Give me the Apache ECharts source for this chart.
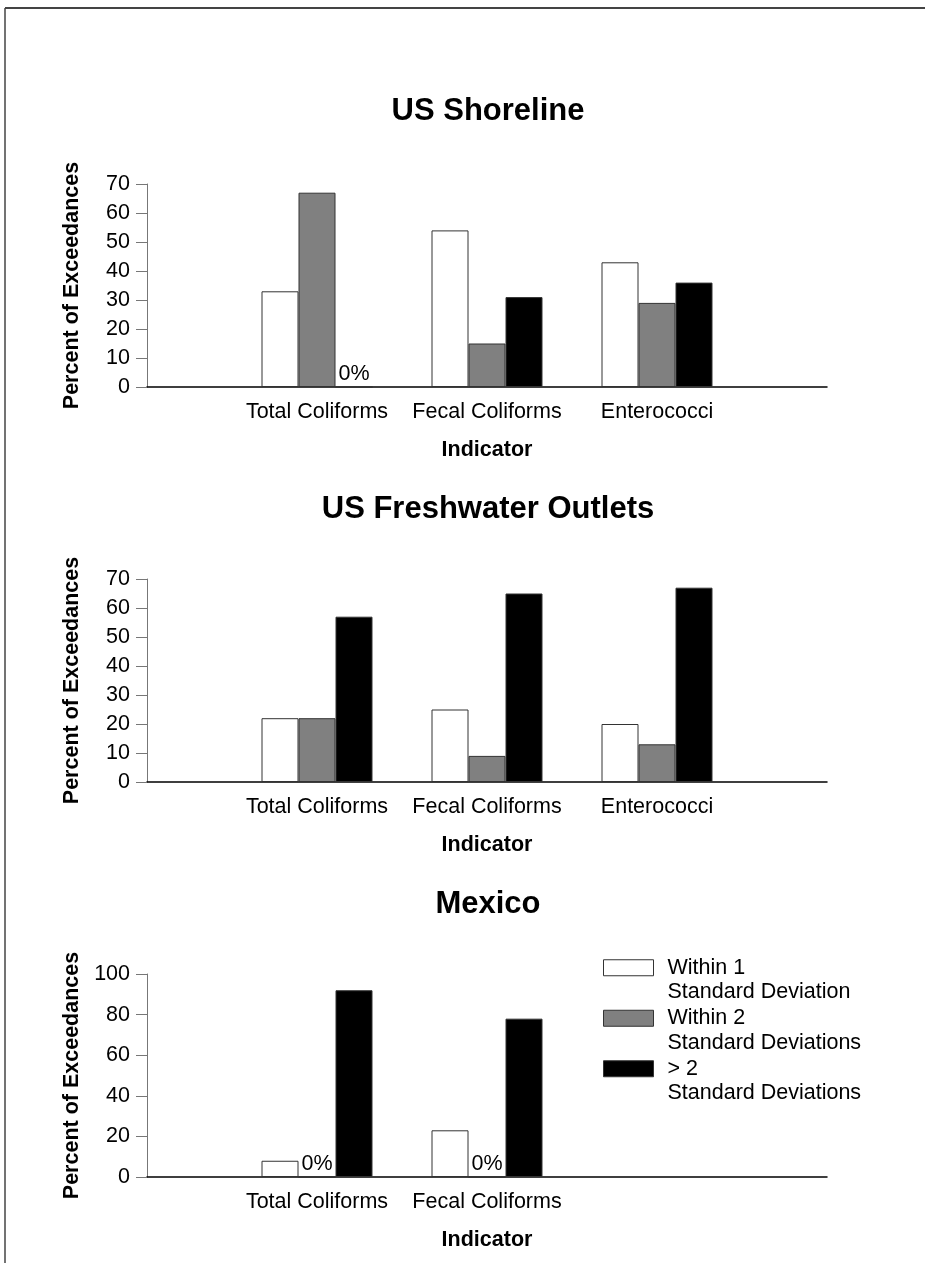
<!DOCTYPE html>
<html>
<head>
<meta charset="utf-8">
<style>
html,body{margin:0;padding:0;background:#fff;}
#c{width:925px;height:1263px;}
</style>
<script src="https://cdn.jsdelivr.net/npm/echarts@6/dist/echarts.min.js"></script>
</head>
<body>
<div id="c"></div>
<script>
// ---- data ----
const titles = ["US Shoreline", "US Freshwater Outlets", "Mexico"];
const cats3 = ["Total Coliforms", "Fecal Coliforms", "Enterococci"];
const cats2 = ["Total Coliforms", "Fecal Coliforms"];
const seriesNames = ["Within 1\nStandard Deviation", "Within 2\nStandard Deviations", "> 2\nStandard Deviations"];

const shoreWithin1 = [33, 54, 43];
const shoreWithin2 = [67, 15, 29];
const shoreOver2   = [0, 31, 36];

const freshWithin1 = [22, 25, 20];
const freshWithin2 = [22, 9, 13];
const freshOver2   = [57, 65, 67];

const mexWithin1 = [8, 23];
const mexWithin2 = [0, 0];
const mexOver2   = [92, 78];

const yTicks12 = [0, 10, 20, 30, 40, 50, 60, 70];
const yTicks3  = [0, 20, 40, 60, 80, 100];

// ---- layout ----
const FONT = "'Liberation Sans', Arial, sans-serif";
const FS = 21.5;
const colors = ['#ffffff', '#808080', '#000000'];
const gridTops = [184, 579, 974];
const titleTops = [91, 489, 884];
const catSets = [cats3, cats3, cats2];
const dataSets = [
  [shoreWithin1, shoreWithin2, shoreOver2],
  [freshWithin1, freshWithin2, freshOver2],
  [mexWithin1, mexWithin2, mexOver2]
];
const yTickSets = [yTicks12, yTicks12, yTicks3];

const grid = [], xAxis = [], yAxis = [], series = [], title = [];
for (let g = 0; g < 3; g++) {
  title.push({
    text: titles[g], left: 483, top: titleTops[g], textAlign: 'center',
    textStyle: {fontFamily: FONT, fontSize: 31, fontWeight: 'bold', color: '#000'}
  });
  grid.push({left: 147, width: 680, top: gridTops[g], height: 203});
  const cats = catSets[g];
  xAxis.push({
    type: 'value', gridIndex: g, min: -1, max: 3, interval: 1,
    splitLine: {show: false}, axisTick: {show: false},
    axisLine: {show: true, onZero: false, lineStyle: {color: '#000', width: 1.5}},
    axisLabel: {
      margin: 14, color: '#000', fontFamily: FONT, fontSize: FS,
      formatter: v => (Number.isInteger(v) && cats[v]) ? cats[v] : ''
    },
    name: 'Indicator', nameLocation: 'middle', nameGap: 52,
    nameTextStyle: {fontFamily: FONT, fontSize: FS, fontWeight: 'bold', color: '#000'}
  });
  const yt = yTickSets[g];
  yAxis.push({
    type: 'value', gridIndex: g, min: yt[0], max: yt[yt.length - 1], interval: yt[1] - yt[0],
    splitLine: {show: false},
    axisLine: {show: true, onZero: false, lineStyle: {color: '#777', width: 1}},
    axisTick: {show: true, length: 11, lineStyle: {color: '#777', width: 1}},
    axisLabel: {margin: 17, color: '#000', fontFamily: FONT, fontSize: FS},
    name: 'Percent of Exceedances', nameLocation: 'middle', nameGap: 64, nameRotate: 90,
    nameTextStyle: {fontFamily: FONT, fontSize: FS, fontWeight: 'bold', color: '#000'}
  });
  for (let s = 0; s < 3; s++) {
    series.push({
      type: 'bar', name: seriesNames[s], xAxisIndex: g, yAxisIndex: g,
      barWidth: 37, barGap: '0%',
      data: dataSets[g][s].map((v, i) => [i, v]),
      itemStyle: {color: colors[s], borderColor: '#333', borderWidth: 1},
      label: {
        show: true, position: 'top', distance: 1, color: '#000',
        fontFamily: FONT, fontSize: FS,
        formatter: p => (p.value[1] === 0 ? '0%' : '')
      },
      emphasis: {disabled: true},
      animation: false
    });
  }
}

const chart = echarts.init(document.getElementById('c'), null, {renderer: 'canvas'});
chart.setOption({
  backgroundColor: '#fff',
  animation: false,
  title, grid, xAxis, yAxis, series,
  legend: {
    data: seriesNames, orient: 'vertical', left: 598, top: 926,
    icon: 'rect', itemWidth: 50, itemHeight: 16, itemGap: -23,
    selectedMode: false,
    formatter: name => '\n' + name,
    itemStyle: {borderColor: '#333', borderWidth: 1},
    textStyle: {fontFamily: FONT, fontSize: FS, color: '#000', lineHeight: 24.5, padding: [0, 0, 0, 9]}
  },
  graphic: [
    {type: 'line', shape: {x1: 5, y1: 8, x2: 925, y2: 8}, style: {stroke: '#444', lineWidth: 2}},
    {type: 'line', shape: {x1: 5, y1: 8, x2: 5, y2: 1263}, style: {stroke: '#444', lineWidth: 1.5}}
  ]
});
</script>
</body>
</html>
